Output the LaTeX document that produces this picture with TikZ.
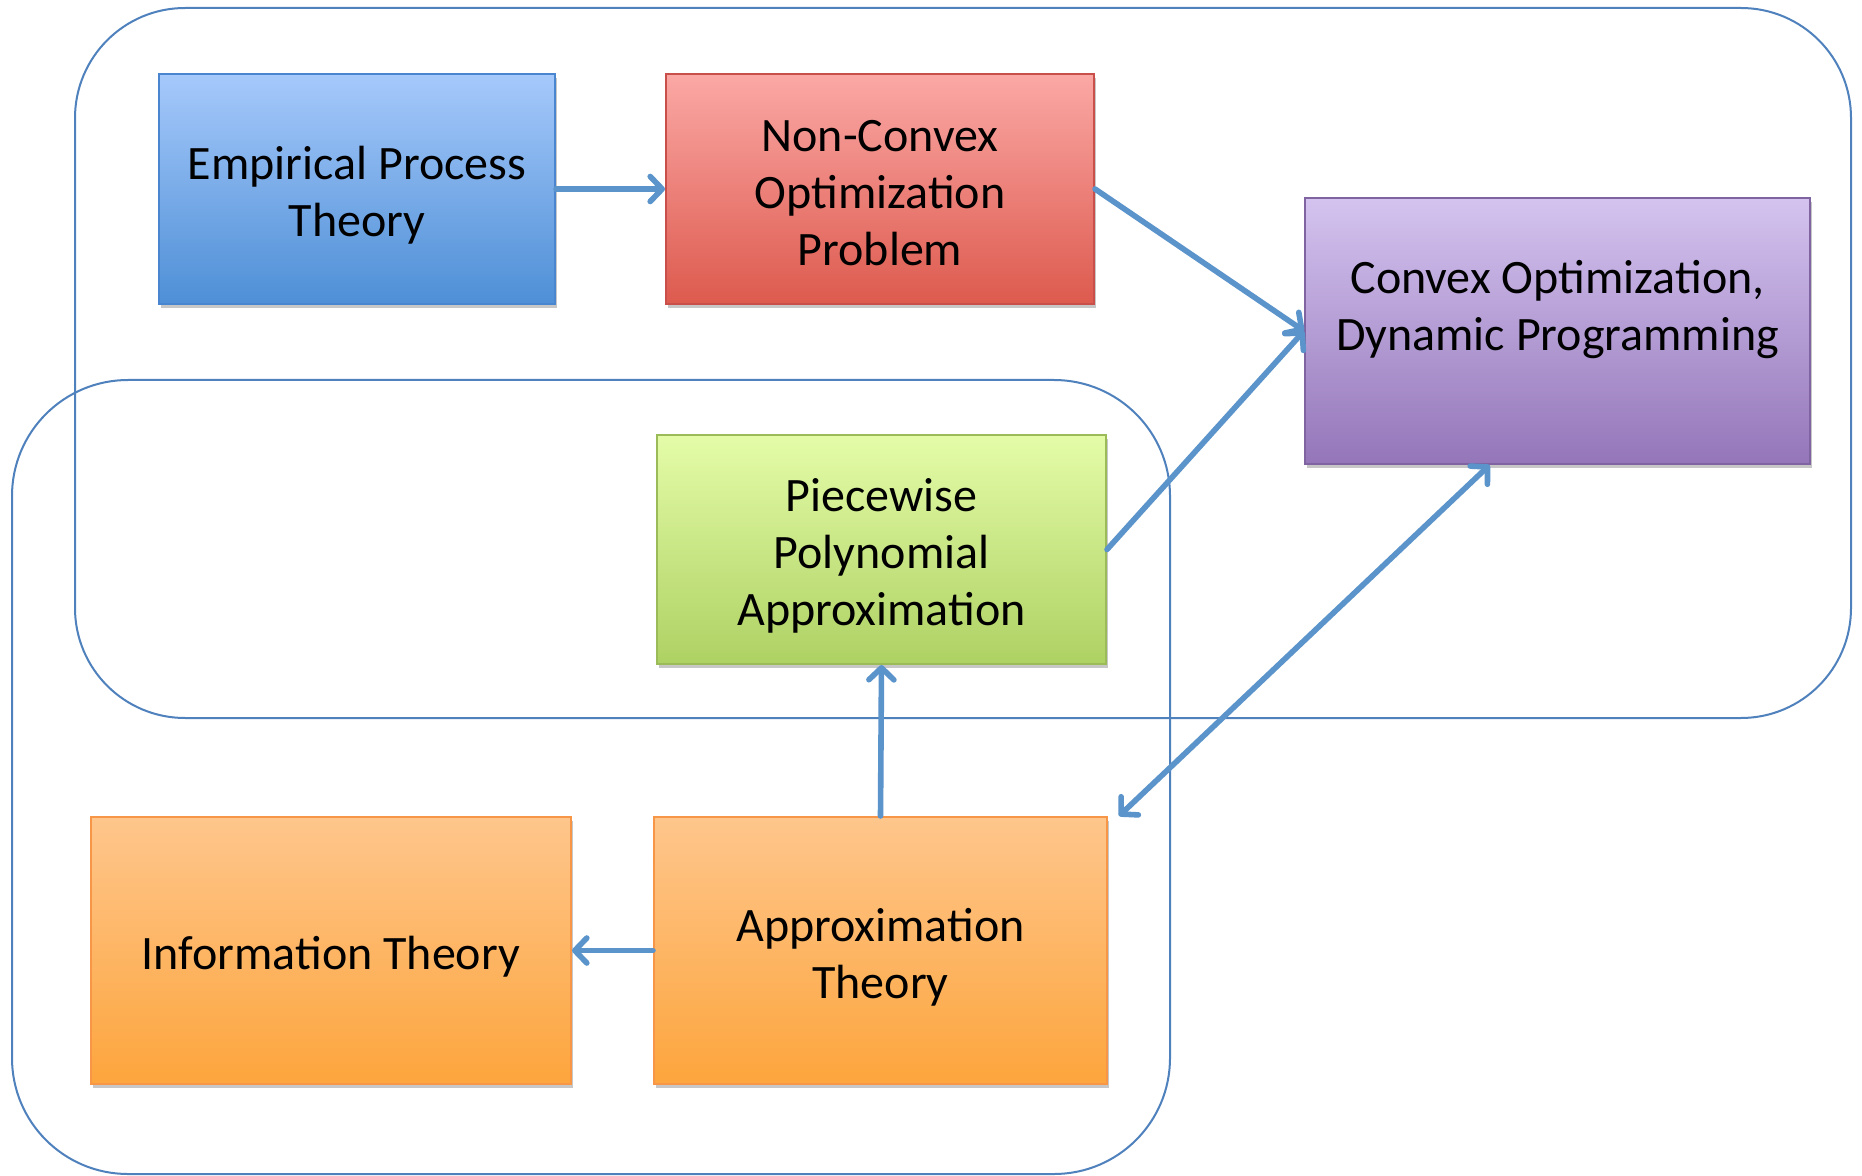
\documentclass[tikz,border=0pt]{standalone}
\usepackage{fontspec}
\setmainfont{Carlito}
\usetikzlibrary{arrows.meta,shadows,calc}
\definecolor{linkblue}{HTML}{5B93CB}
\definecolor{frameblue}{HTML}{4F81BD}
\definecolor{bluetop}{HTML}{A6C9FB}\definecolor{bluebot}{HTML}{4E8FD6}\definecolor{blueedge}{HTML}{4A86CF}
\definecolor{redtop}{HTML}{FBA8A5}\definecolor{redbot}{HTML}{DD5A4E}\definecolor{rededge}{HTML}{C9504A}
\definecolor{purtop}{HTML}{D4C3EF}\definecolor{purbot}{HTML}{9476B9}\definecolor{puredge}{HTML}{8064A2}
\definecolor{grntop}{HTML}{E4FCA8}\definecolor{grnbot}{HTML}{AED163}\definecolor{grnedge}{HTML}{9BBB59}
\definecolor{orgtop}{HTML}{FEC68C}\definecolor{orgbot}{HTML}{FDA53D}\definecolor{orgedge}{HTML}{F79646}
\newcommand{\boxtext}[1]{\raisebox{-4pt}[\height][\depth]{\begin{tabular}{@{}c@{}}#1\end{tabular}}}
\tikzset{
  frame/.style={draw=frameblue, line width=1pt},
  box/.style={line width=1pt, inner sep=0pt, align=center,
    font=\fontsize{24}{28.5}\selectfont,
    drop shadow={shadow xshift=1pt, shadow yshift=-2pt, opacity=0.22, fill=black}},
  bluebox/.style={box, draw=blueedge, top color=bluetop, bottom color=bluebot},
  redbox/.style={box, draw=rededge, top color=redtop, bottom color=redbot},
  purbox/.style={box, draw=puredge, top color=purtop, bottom color=purbot},
  grnbox/.style={box, draw=grnedge, top color=grntop, bottom color=grnbot},
  orgbox/.style={box, draw=orgedge, top color=orgtop, bottom color=orgbot},
  barb/.tip={Straight Barb[length=6pt,width=12.5pt,line cap=round,line join=round]},
  link/.style={draw=linkblue, line width=2.8pt, line cap=round, -barb},
  linkboth/.style={link, barb-barb},
}
\begin{document}
\begin{tikzpicture}[x=0.5pt,y=-0.5pt]
\useasboundingbox (0,0) rectangle (1862,1176);
\fill[white] (0,0) rectangle (1862,1176);
% frames
\draw[frame, rounded corners=55pt] (75,8) rectangle (1851,718);
\draw[frame, rounded corners=58pt] (12,380) rectangle (1170,1174);
% boxes
\node[bluebox, minimum width=198pt, minimum height=115pt] (ept) at (357,189) {\boxtext{Empirical Process\\Theory}};
\node[redbox, minimum width=214pt, minimum height=115pt] (nco) at (880,189) {\boxtext{Non-Convex\\Optimization\\Problem}};
\node[purbox, minimum width=252.5pt, minimum height=133pt] (cod) at (1557.5,331) {\boxtext{Convex Optimization,\\Dynamic Programming\\\mbox{}}};
\node[grnbox, minimum width=224.5pt, minimum height=114.5pt] (ppa) at (881.5,549.5) {\boxtext{Piecewise\\Polynomial\\Approximation}};
\node[orgbox, minimum width=240pt, minimum height=133.5pt] (it) at (331,950.5) {\boxtext{Information Theory}};
\node[orgbox, minimum width=226.5pt, minimum height=133.5pt] (at) at (880.5,950.5) {\boxtext{Approximation\\Theory}};
% connectors
\draw[link] (ept.east) -- (nco.west);
\draw[link] (nco.east) -- (cod.west);
\draw[link] (ppa.east) -- (cod.west);
\draw[linkboth] ($(cod.south west)!0.366!(cod.south east)$) -- ([xshift=5.5pt]at.north east);
\draw[link] (at.north) -- (ppa.south);
\draw[link] (at.west) -- (it.east);
\end{tikzpicture}
\end{document}
